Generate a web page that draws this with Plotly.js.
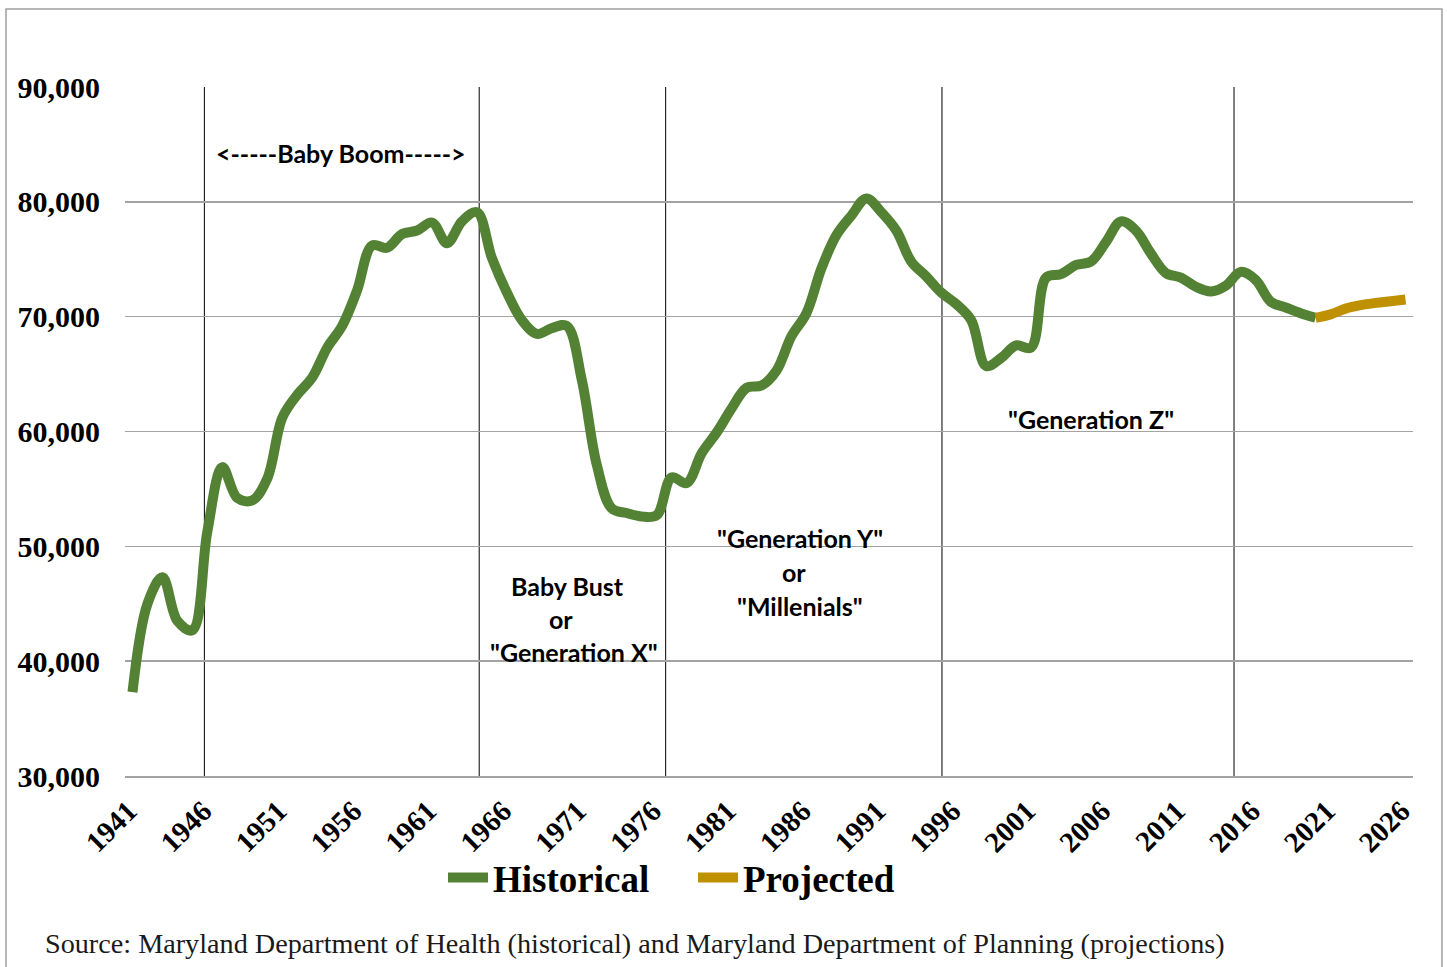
<!DOCTYPE html>
<html>
<head>
<meta charset="utf-8">
<script src="https://cdn.plot.ly/plotly-3.0.1.min.js"></script>
<style>
  html, body { margin: 0; padding: 0; background: #ffffff; }
  #chart { width: 1447px; height: 967px; }
</style>
</head>
<body>
<div id="chart"></div>
<script>
// ---- Data ----
const historicalYears = [];
for (let y = 1941; y <= 2020; y++) historicalYears.push(y);
const historicalBirths = [
  37300, 45000, 47300, 43500, 42700, 51300, 56900, 54200, 54000, 55900,
  61200, 63200, 64700, 67300, 69200, 72300, 76200, 76000, 77200, 77500,
  78200, 76400, 78300, 79100, 75100, 72100, 69700, 68500, 69000, 69200,
  64500, 57100, 53300, 52900, 52600, 52700, 56000, 55500, 58100, 59900,
  62000, 63800, 64000, 65300, 68300, 70300, 74200, 77100, 78800, 80300,
  79100, 77500, 74800, 73500, 72100, 71100, 69700, 65700, 66400, 67500,
  67300, 73400, 73700, 74500, 74800, 76500, 78300, 77500, 75500, 73800,
  73400, 72600, 72200, 72700, 73900, 73200, 71300, 70800, 70300, 69900
];
const projectedYears = [2020, 2021, 2022, 2023, 2024, 2025, 2026];
const projectedBirths = [69900, 70200, 70700, 71000, 71200, 71350, 71500];

const xTickYears = [1941, 1946, 1951, 1956, 1961, 1966, 1971, 1976, 1981, 1986,
                    1991, 1996, 2001, 2006, 2011, 2016, 2021, 2026];
const yTickValues = [30000, 40000, 50000, 60000, 70000, 80000, 90000];
const yTickLabels = ["30,000", "40,000", "50,000", "60,000", "70,000", "80,000", "90,000"];

const dividerYears = [1945.8, 1964.15, 1976.6, 1995.05, 2014.55];

const sourceNote = "Source: Maryland Department of Health (historical) and Maryland Department of Planning (projections)";

// ---- Chart ----
const GREEN = "#548235";
const GOLD = "#BF9000";
const GRID = "#a3a3a3";
const labelFont = { family: "Lato, 'Open Sans', sans-serif", size: 25, color: "#000", weight: "bold" };

const traces = [
  {
    x: historicalYears, y: historicalBirths, name: "Historical",
    type: "scatter", mode: "lines",
    line: { color: GREEN, width: 10, shape: "spline", smoothing: 1 },
    hoverinfo: "x+y"
  },
  {
    x: projectedYears, y: projectedBirths, name: "Projected",
    type: "scatter", mode: "lines",
    line: { color: GOLD, width: 10, shape: "spline", smoothing: 1 },
    hoverinfo: "x+y"
  }
];

const shapes = dividerYears.map(yr => ({
  type: "line", xref: "x", yref: "paper", x0: yr, x1: yr, y0: 0, y1: 1,
  line: { color: "#000", width: 1 }, layer: "below"
}));
// outer chart border
shapes.push({
  type: "rect", xref: "paper", yref: "paper",
  x0: -0.0924, x1: 1.0225, y0: -0.30, y1: 1.1132,
  line: { color: "#a0a0a0", width: 1.5 }, fillcolor: "rgba(0,0,0,0)", layer: "below"
});

const annotations = [
  { x: 1954.95, y: 84250, text: "<-----Baby Boom----->" },
  { x: 1970.05, y: 46540, text: "Baby Bust" },
  { x: 1969.6, y: 43660, text: "or" },
  { x: 1970.45, y: 40790, text: "\"Generation X\"" },
  { x: 1985.55, y: 50720, text: "\"Generation Y\"" },
  { x: 1985.15, y: 47760, text: "or" },
  { x: 1985.55, y: 44800, text: "\"Millenials\"" },
  { x: 2005.0, y: 61080, text: "\"Generation Z\"" }
].map(a => Object.assign({
  xref: "x", yref: "y", showarrow: false, xanchor: "center", yanchor: "middle",
  font: labelFont
}, a));

annotations.push({
  xref: "paper", yref: "paper", x: -0.0637, y: -0.2438,
  xanchor: "left", yanchor: "middle", showarrow: false,
  text: sourceNote,
  font: { family: "'Liberation Serif', serif", size: 28.2, color: "#1a1a1a" }
});

const layout = {
  width: 1447, height: 967,
  margin: { l: 125, r: 34, t: 87, b: 191, pad: 0 },
  paper_bgcolor: "#ffffff", plot_bgcolor: "#ffffff",
  showlegend: true,
  legend: {
    orientation: "h", x: 0.441, xanchor: "center", y: -0.148, yanchor: "middle",
    font: { family: "'Liberation Serif', serif", size: 37, color: "#000", weight: "bold" },
    itemwidth: 40, entrywidth: 195, entrywidthmode: "pixels",
    tracegroupgap: 0, bgcolor: "rgba(0,0,0,0)"
  },
  xaxis: {
    range: [1940.5, 2026.5], tickmode: "array", tickvals: xTickYears,
    ticktext: xTickYears.map(String), tickangle: -45,
    showgrid: false, zeroline: false, showline: true, linecolor: GRID, linewidth: 1.5,
    ticks: "", ticklabelstandoff: 5, ticklabelshift: -4,
    tickfont: { family: "'Liberation Serif', serif", size: 29, color: "#000", weight: "bold" },
    fixedrange: true
  },
  yaxis: {
    range: [30000, 90000], tickmode: "array", tickvals: yTickValues, ticktext: yTickLabels,
    showgrid: true, gridcolor: GRID, gridwidth: 1.5, zeroline: false, showline: false,
    ticks: "", ticklabelstandoff: 24,
    tickfont: { family: "'Liberation Serif', serif", size: 30, color: "#000", weight: "bold" },
    fixedrange: true
  },
  shapes: shapes,
  annotations: annotations
};

Plotly.newPlot("chart", traces, layout, { displayModeBar: false, staticPlot: true });
</script>
</body>
</html>
